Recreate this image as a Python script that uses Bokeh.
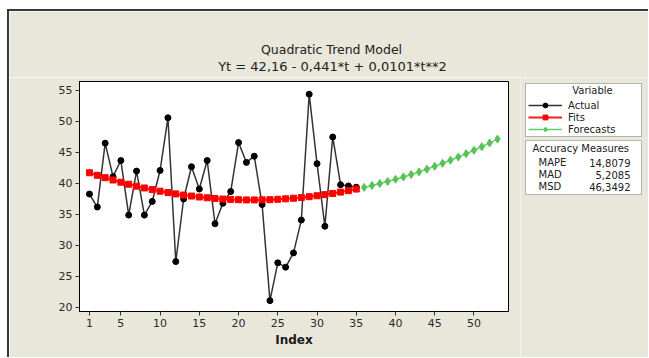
from bokeh.plotting import figure
from bokeh.layouts import column, row
from bokeh.models import Label, BoxAnnotation, Legend, LegendItem, Range1d, FixedTicker
from bokeh.embed import file_html
from bokeh.resources import INLINE

# ---- data ----
t_actual = list(range(1, 36))
actual = [38.3, 36.2, 46.5, 41.1, 43.7, 34.9, 42.0, 34.9, 37.1, 42.1,
          50.6, 27.4, 37.5, 42.7, 39.1, 43.7, 33.5, 36.8, 38.7, 46.6,
          43.4, 44.4, 36.6, 21.1, 27.2, 26.5, 28.8, 34.1, 54.4, 43.2,
          33.1, 47.5, 39.8, 39.6, 39.4]
fits = [41.73, 41.32, 40.93, 40.56, 40.21, 39.88, 39.57, 39.28, 39.01, 38.76,
        38.53, 38.32, 38.13, 37.97, 37.82, 37.69, 37.58, 37.49, 37.43, 37.38,
        37.35, 37.35, 37.36, 37.39, 37.45, 37.52, 37.62, 37.73, 37.87, 38.02,
        38.20, 38.39, 38.61, 38.84, 39.10]
t_forecast = list(range(36, 54))
forecasts = [39.37, 39.67, 39.99, 40.32, 40.68, 41.06, 41.45, 41.87, 42.31,
             42.77, 43.25, 43.74, 44.26, 44.80, 45.36, 45.94, 46.54, 47.16]
x_tick_values = [1, 5, 10, 15, 20, 25, 30, 35, 40, 45, 50]
y_tick_values = [20, 25, 30, 35, 40, 45, 50, 55]
title_text = "Quadratic Trend Model"
subtitle_text = "Yt = 42,16 - 0,441*t + 0,0101*t**2"
legend_labels = ["Actual", "Fits", "Forecasts"]
measure_names = ["MAPE", "MAD", "MSD"]
measure_values = ["14,8079", "5,2085", "46,3492"]

BG = "#e9e6da"
FONT = "DejaVu Sans"
TXT = "#222222"
C_ACT_LINE, C_ACT_PT = "#333333", "black"
C_FIT_LINE, C_FIT_PT = "#ff1a1a", "#ff0000"
C_FC_LINE, C_FC_PT = "#66cc66", "#55c455"


def blank(width, height):
    # ranges far away from any data: only screen-unit annotations show here
    f = figure(width=width, height=height, output_backend="svg", toolbar_location=None,
               x_axis_location=None, y_axis_location=None,
               x_range=Range1d(1000, 1000 + width), y_range=Range1d(1000, 1000 + height),
               min_border=0, min_border_left=0, min_border_right=0,
               min_border_top=0, min_border_bottom=0, frame_align=False,
               background_fill_color=BG, border_fill_color=BG, outline_line_color=None)
    f.xgrid.visible = False
    f.ygrid.visible = False
    return f


def lab(fig, x, y, text, size="10px", align="left", bold=False):
    fig.add_layout(Label(x=x, y=y, x_units="screen", y_units="screen", text=text,
                         text_align=align, text_baseline="middle", text_font=FONT,
                         text_font_size=size, text_color=TXT,
                         text_font_style="bold" if bold else "normal"))


def draw_series(fig, k=1.0):
    r = []
    r.append(fig.line(t_actual, actual, line_color=C_ACT_LINE, line_width=1.5))
    r.append(fig.scatter(t_actual, actual, marker="circle", size=6 * k, color=C_ACT_PT))
    r.append(fig.line(t_actual, fits, line_color=C_FIT_LINE, line_width=2))
    r.append(fig.scatter(t_actual, fits, marker="square", size=6 * k, color=C_FIT_PT))
    r.append(fig.line(t_forecast, forecasts, line_color=C_FC_LINE, line_width=1.5))
    r.append(fig.scatter(t_forecast, forecasts, marker="diamond", size=8 * k, color=C_FC_PT))
    return r


# ---- top strip with titles ----
top = blank(639, 66)
lab(top, 322, 28, title_text, size="12.5px", align="center")
lab(top, 323, 11, subtitle_text, size="13px", align="center")

# ---- main plot ----
p = figure(width=511, height=280, output_backend="svg", toolbar_location=None,
           x_range=Range1d(-0.27, 54.4), y_range=Range1d(19.35, 56.45),
           min_border_left=70, min_border_right=12, min_border_top=4,
           min_border_bottom=46, frame_align=False, background_fill_color="white",
           border_fill_color=BG, outline_line_color="black", outline_line_width=1)
p.xgrid.visible = False
p.ygrid.visible = False
for ax in (p.xaxis[0], p.yaxis[0]):
    ax.major_label_text_font = FONT
    ax.major_label_text_font_size = "11px"
    ax.major_label_text_color = "#2a2a2a"
    ax.major_tick_in = 0
    ax.major_tick_out = 4
    ax.minor_tick_out = 0
    ax.minor_tick_in = 0
    ax.axis_line_color = "black"
    ax.major_tick_line_color = "#333333"
    ax.major_label_standoff = 3
p.xaxis.ticker = FixedTicker(ticks=x_tick_values)
p.yaxis.ticker = FixedTicker(ticks=y_tick_values)
p.xaxis.axis_label = "Index"
p.xaxis.axis_label_text_font = FONT
p.xaxis.axis_label_text_font_style = "bold"
p.xaxis.axis_label_text_font_size = "12px"
p.xaxis.axis_label_text_color = "#1a1a1a"
p.xaxis.axis_label_standoff = 3

draw_series(p)

# ---- side panel with legend and accuracy measures ----
side = blank(128, 280)
for top_y, bot_y in [(274, 221), (217, 163)]:
    side.add_layout(BoxAnnotation(left=5, right=121, bottom=bot_y, top=top_y,
                                  left_units="screen", right_units="screen",
                                  bottom_units="screen", top_units="screen",
                                  fill_color="white", fill_alpha=1,
                                  line_color="#222222", line_width=1))
sr = draw_series(side, k=1.15)
legend = Legend(items=[LegendItem(label=legend_labels[0], renderers=sr[0:2]),
                       LegendItem(label=legend_labels[1], renderers=sr[2:4]),
                       LegendItem(label=legend_labels[2], renderers=sr[4:6])],
                location=(6, 220), padding=2, spacing=0, glyph_width=34, glyph_height=12,
                label_height=12, label_standoff=6, margin=0,
                label_text_font=FONT, label_text_font_size="10px", label_text_color=TXT,
                background_fill_alpha=0, border_line_alpha=0)
side.add_layout(legend)
lab(side, 72, 267, "Variable", align="center")
lab(side, 12, 209, "Accuracy Measures")
for name, val, yy in zip(measure_names, measure_values, [195, 183, 171]):
    lab(side, 18, yy, name)
    lab(side, 110, yy, val, align="right")

layout = column(top, row(p, side, spacing=0), spacing=0)
layout.styles = {"margin-left": "7px", "margin-top": "9px",
                 "border-left": "2px solid #3a3a3a", "border-top": "2px solid #3a3a3a"}

open("out.html", "w").write(file_html(layout, INLINE))
